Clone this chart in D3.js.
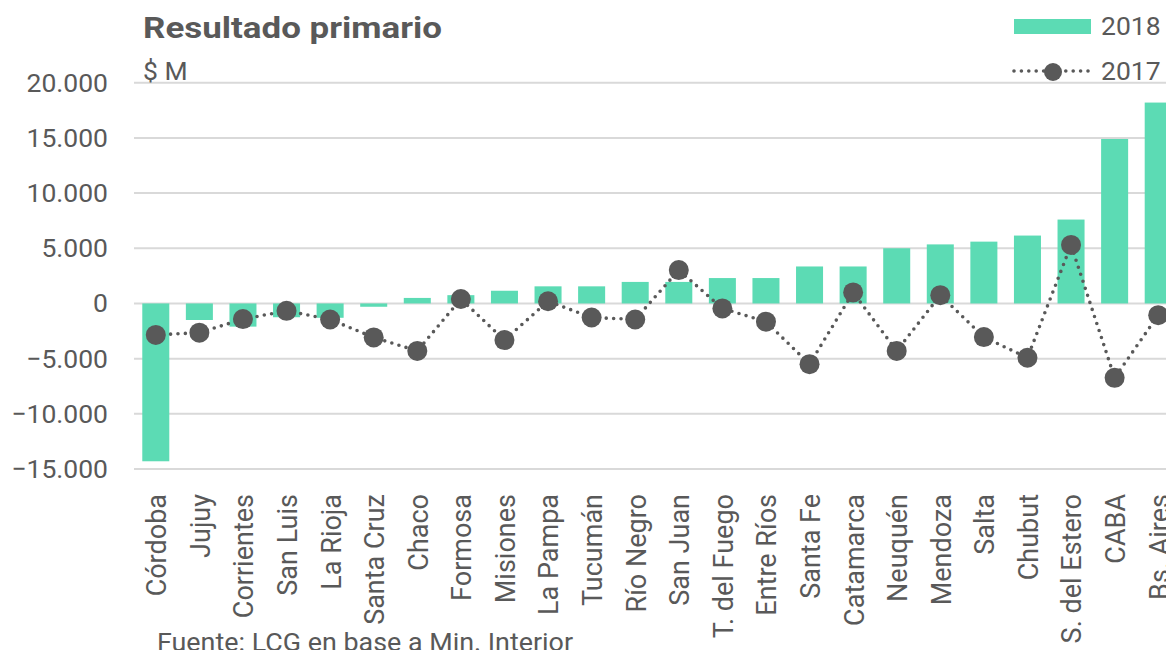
<!DOCTYPE html>
<html><head><meta charset="utf-8">
<script src="https://cdn.jsdelivr.net/npm/d3@7"></script>
<style>
html,body{margin:0;padding:0;background:#fff;overflow:hidden}
text{font-family:Roboto,"Noto Sans",sans-serif;fill:#595959}
</style></head>
<body><svg id="c" width="1166" height="650"></svg>
<script>
const categories = ["Córdoba","Jujuy","Corrientes","San Luis","La Rioja","Santa Cruz","Chaco","Formosa","Misiones","La Pampa","Tucumán","Río Negro","San Juan","T. del Fuego","Entre Ríos","Santa Fe","Catamarca","Neuquén","Mendoza","Salta","Chubut","S. del Estero","CABA","Bs. Aires"];
const values2018 = [-14300,-1500,-2100,-1250,-1300,-300,500,750,1150,1550,1550,1950,1950,2300,2300,3350,3350,5000,5350,5600,6150,7600,14900,18200];
const values2017 = [-2850,-2650,-1420,-670,-1450,-3080,-4300,400,-3320,200,-1270,-1450,3020,-450,-1650,-5500,1000,-4300,750,-3050,-4920,5300,-6740,-1060];
const yTicks = [-15000,-10000,-5000,0,5000,10000,15000,20000];
const seriesNames = ["2018","2017"];
const title = "Resultado primario";
const unit = "$ M";
const source = "Fuente: LCG en base a Min. Interior";

const svg = d3.select("#c");
const barColor = "#5cdbb4", dotColor = "#595959", gridColor = "#d9d9d9";

const x = d3.scaleBand().domain(categories).range([134, 1180]).paddingInner(0.38).paddingOuter(0.19);
const y = d3.scaleLinear().domain([-15000, 20000]).range([469, 82.7]);
const fmt = v => d3.format(",")(v).replace(/,/g, ".");

// grid
svg.append("g").selectAll("line").data(yTicks).join("line")
  .attr("x1", 134).attr("x2", 1166)
  .attr("y1", d => y(d)).attr("y2", d => y(d))
  .attr("stroke", gridColor).attr("stroke-width", 2);

// y axis labels
const yAxis = d3.axisLeft(y).tickValues(yTicks).tickFormat(fmt).tickSize(0).tickPadding(0);
const ya = svg.append("g").attr("transform", "translate(108,0)").call(yAxis);
ya.select(".domain").remove();
ya.selectAll("text").attr("font-size", 26.5).attr("fill", "#595959").attr("font-family", "Roboto");

// bars
svg.append("g").selectAll("rect").data(categories).join("rect")
  .attr("x", d => x(d))
  .attr("width", x.bandwidth())
  .attr("y", (d, i) => y(Math.max(0, values2018[i])))
  .attr("height", (d, i) => Math.abs(y(values2018[i]) - y(0)))
  .attr("fill", barColor);

// dotted line
const line = d3.line().x((d, i) => x(categories[i]) + x.bandwidth() / 2).y(d => y(d));
svg.append("path").datum(values2017).attr("d", line)
  .attr("fill", "none").attr("stroke", dotColor).attr("stroke-width", 3.6)
  .attr("stroke-linecap", "round").attr("stroke-dasharray", "0 7.4");
svg.append("g").selectAll("circle").data(values2017).join("circle")
  .attr("cx", (d, i) => x(categories[i]) + x.bandwidth() / 2)
  .attr("cy", d => y(d)).attr("r", 10).attr("fill", dotColor);

// x axis labels
const xa = d3.axisBottom(x).tickSize(0).tickPadding(0);
const xg = svg.append("g").call(xa);
xg.select(".domain").remove();
xg.selectAll("text")
  .attr("font-size", 27).attr("fill", "#595959").attr("font-family", "Roboto")
  .attr("text-anchor", "end")
  .attr("transform", "translate(0,494) rotate(-90)")
  .attr("x", 0).attr("y", 0).attr("dy", "0.35em");
xg.selectAll(".tick").attr("transform", d => `translate(${x(d) + x.bandwidth() / 2 + 1},0)`);

// title
svg.append("text").attr("x", 143).attr("y", 38).attr("font-size", 30).attr("font-weight", "bold")
  .attr("textLength", 299).attr("lengthAdjust", "spacingAndGlyphs").text(title);
svg.append("text").attr("x", 143).attr("y", 80).attr("font-size", 26.5).text(unit);

// legend
svg.append("rect").attr("x", 1014).attr("y", 19).attr("width", 77).attr("height", 15).attr("fill", barColor);
svg.append("text").attr("x", 1101).attr("y", 35).attr("font-size", 26.5).text(seriesNames[0]);
svg.append("line").attr("x1", 1014).attr("x2", 1091).attr("y1", 71).attr("y2", 71)
  .attr("stroke", dotColor).attr("stroke-width", 3.6).attr("stroke-linecap", "round").attr("stroke-dasharray", "0 7.4");
svg.append("circle").attr("cx", 1053).attr("cy", 72).attr("r", 9).attr("fill", dotColor);
svg.append("text").attr("x", 1101).attr("y", 80).attr("font-size", 26.5).text(seriesNames[1]);

// source
svg.append("text").attr("x", 157).attr("y", 651).attr("font-size", 26.5)
  .attr("textLength", 416).attr("lengthAdjust", "spacingAndGlyphs").text(source);
</script></body></html>
